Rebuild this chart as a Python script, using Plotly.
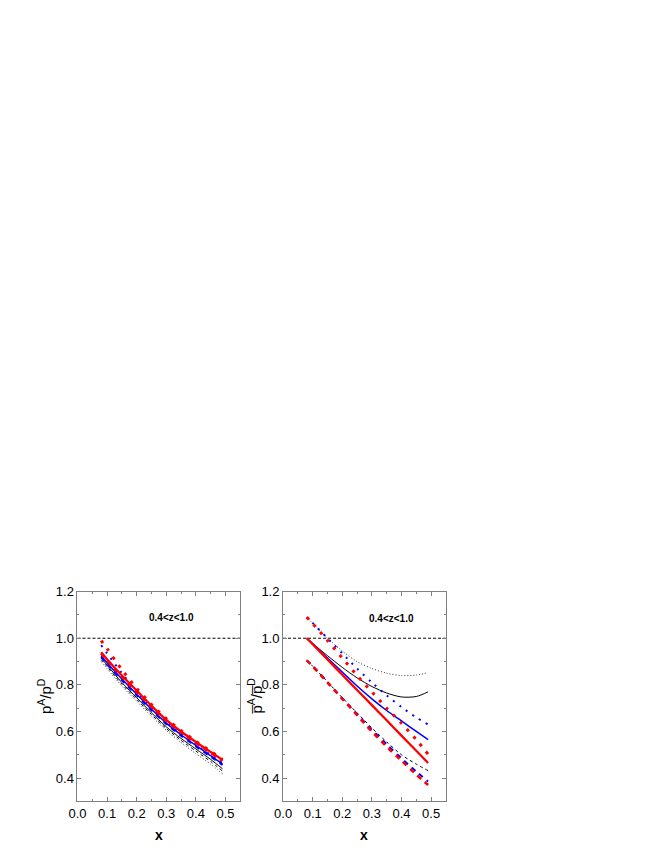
import plotly.graph_objects as go

# ---------------- data ----------------
x_vals = [0.08, 0.10, 0.15, 0.20, 0.25, 0.30, 0.35, 0.40, 0.45, 0.49]

# left panel: p^A / p^D
left_red_solid   = [0.940, 0.910, 0.840, 0.775, 0.710, 0.650, 0.600, 0.555, 0.512, 0.478]
left_red_dash    = [0.935, 0.905, 0.835, 0.770, 0.706, 0.646, 0.596, 0.551, 0.508, 0.474]
left_red_dot     = [0.990, 0.955, 0.865, 0.785, 0.716, 0.655, 0.604, 0.558, 0.515, 0.480]
left_blue_solid  = [0.925, 0.895, 0.825, 0.760, 0.695, 0.636, 0.586, 0.540, 0.496, 0.460]
left_blue_dash   = [0.920, 0.890, 0.820, 0.755, 0.691, 0.632, 0.582, 0.536, 0.492, 0.456]
left_blue_dot    = [0.970, 0.935, 0.850, 0.772, 0.702, 0.640, 0.589, 0.543, 0.499, 0.463]
left_black_solid = [0.915, 0.885, 0.810, 0.745, 0.680, 0.620, 0.570, 0.525, 0.480, 0.440]
left_black_dash  = [0.908, 0.878, 0.803, 0.738, 0.673, 0.613, 0.562, 0.516, 0.471, 0.430]
left_black_dot   = [0.900, 0.870, 0.795, 0.730, 0.665, 0.605, 0.553, 0.505, 0.460, 0.418]

# right panel: pbar^A / pbar^D
right_red_solid   = [1.000, 0.974, 0.909, 0.843, 0.778, 0.713, 0.648, 0.582, 0.517, 0.465]
right_red_dash    = [0.905, 0.880, 0.810, 0.740, 0.670, 0.600, 0.535, 0.475, 0.415, 0.370]
right_red_dot     = [1.090, 1.063, 0.990, 0.915, 0.840, 0.770, 0.700, 0.635, 0.565, 0.502]
right_blue_solid  = [1.000, 0.976, 0.915, 0.855, 0.795, 0.740, 0.690, 0.645, 0.600, 0.565]
right_blue_dash   = [0.905, 0.880, 0.812, 0.742, 0.675, 0.607, 0.545, 0.485, 0.428, 0.385]
right_blue_dot    = [1.090, 1.065, 1.000, 0.935, 0.870, 0.810, 0.755, 0.705, 0.660, 0.630]
right_black_solid = [1.000, 0.978, 0.925, 0.875, 0.830, 0.793, 0.765, 0.748, 0.750, 0.770]
right_black_dash  = [0.905, 0.880, 0.813, 0.745, 0.680, 0.615, 0.555, 0.500, 0.460, 0.432]
right_black_dot   = [1.090, 1.065, 1.000, 0.945, 0.900, 0.870, 0.850, 0.840, 0.842, 0.852]

panel_label = "0.4<z<1.0"
x_ticks = [0.0, 0.1, 0.2, 0.3, 0.4, 0.5]
y_ticks = [0.4, 0.6, 0.8, 1.0, 1.2]

# ---------------- styles ----------------
RED, BLUE, BLACK = "#ff0000", "#0000ff", "#000000"
styles = {
    ("red", "solid"): dict(color=RED, width=2.3, dash="solid"),
    ("red", "dash"): dict(color=RED, width=2.6, dash="5px,5px"),
    ("red", "dot"): dict(color=RED, width=3, dash="3px,7px"),
    ("blue", "solid"): dict(color=BLUE, width=1.5, dash="solid"),
    ("blue", "dash"): dict(color=BLUE, width=2, dash="5px,5px"),
    ("blue", "dot"): dict(color=BLUE, width=2, dash="2px,6px"),
    ("black", "solid"): dict(color=BLACK, width=1, dash="solid"),
    ("black", "dash"): dict(color=BLACK, width=1, dash="3px,3px"),
    ("black", "dot"): dict(color="#333333", width=1, dash="1px,2px"),
}

left_series = [
    ("black", "dot", left_black_dot), ("black", "dash", left_black_dash), ("black", "solid", left_black_solid),
    ("blue", "dot", left_blue_dot), ("blue", "dash", left_blue_dash), ("blue", "solid", left_blue_solid),
    ("red", "dot", left_red_dot), ("red", "dash", left_red_dash), ("red", "solid", left_red_solid),
]
right_series = [
    ("black", "dot", right_black_dot), ("black", "dash", right_black_dash), ("black", "solid", right_black_solid),
    ("blue", "dot", right_blue_dot), ("blue", "dash", right_blue_dash), ("blue", "solid", right_blue_solid),
    ("red", "dot", right_red_dot), ("red", "dash", right_red_dash), ("red", "solid", right_red_solid),
]

fig = go.Figure()

for axes, series in (("x", left_series), ("x2", right_series)):
    yax = "y" if axes == "x" else "y2"
    fig.add_trace(go.Scatter(x=[0.0, 0.55], y=[1.0, 1.0], mode="lines", xaxis=axes, yaxis=yax,
                             line=dict(color="#000000", width=1, dash="3px,2px"), showlegend=False,
                             hoverinfo="skip"))
    for col, sty, vals in series:
        fig.add_trace(go.Scatter(x=x_vals, y=vals, mode="lines", xaxis=axes, yaxis=yax,
                                 line=dict(shape="spline", smoothing=0.8, **styles[(col, sty)]),
                                 showlegend=False))

W, H = 670, 867
OFF = 8  # default page body margin
x0L, x1L = 69.3 - OFF, 234.3 - OFF
x0R, x1R = 277.7 - OFF, 442.7 - OFF
yT, yB = 589.3 - OFF, 800.8 - OFF

font = "Liberation Sans, Arial, sans-serif"
common_x = dict(range=[0, 0.55], tickvals=x_ticks, ticktext=[f"{v:.1f}" for v in x_ticks],
                ticks="inside", ticklen=4, tickcolor="#808080", showline=True, linecolor="#808080",
                linewidth=1, mirror="ticks", showgrid=False, zeroline=False,
                tickfont=dict(family=font, size=13, color="#000000"),
                minor=dict(dtick=0.05, tick0=0, ticks="inside", ticklen=2, tickcolor="#808080"))
common_y = dict(range=[0.3, 1.2], tickvals=y_ticks, ticktext=[f"{v:.1f}" for v in y_ticks],
                ticks="inside", ticklen=4, tickcolor="#808080", showline=True, linecolor="#808080",
                linewidth=1, mirror="ticks", showgrid=False, zeroline=False,
                tickfont=dict(family=font, size=13, color="#000000"),
                minor=dict(dtick=0.1, tick0=0.3, ticks="inside", ticklen=2, tickcolor="#808080"))

fig.update_layout(
    width=W, height=H, margin=dict(l=0, r=0, t=0, b=0),
    paper_bgcolor="white", plot_bgcolor="white", showlegend=False,
    xaxis=dict(domain=[x0L / W, x1L / W], anchor="y", **common_x),
    yaxis=dict(domain=[1 - yB / H, 1 - yT / H], anchor="x", **common_y),
    xaxis2=dict(domain=[x0R / W, x1R / W], anchor="y2", **common_x),
    yaxis2=dict(domain=[1 - yB / H, 1 - yT / H], anchor="x2", **common_y),
)

ann = []
ann.append(dict(text=f"<b>{panel_label}</b>", x=0.319, y=1.088, xref="x", yref="y",
                xanchor="center", yanchor="middle",
                showarrow=False, font=dict(family=font, size=10, color="#000")))
ann.append(dict(text=f"<b>{panel_label}</b>", x=0.366, y=1.086, xref="x2", yref="y2",
                xanchor="center", yanchor="middle",
                showarrow=False, font=dict(family=font, size=10, color="#000")))
for cx in ((x0L + x1L) / 2, (x0R + x1R) / 2):
    ann.append(dict(text="<b>x</b>", x=cx / W, y=1 - (835 - OFF) / H, xref="paper", yref="paper",
                    xanchor="center", yanchor="middle",
                    showarrow=False, font=dict(family=font, size=14, color="#000")))
ann.append(dict(text="p<sup>A</sup>/p<sup>D</sup>", x=(36 - OFF) / W, y=1 - (695 - OFF) / H,
                xref="paper", yref="paper", xanchor="center", yanchor="middle",
                showarrow=False, textangle=-90, font=dict(family=font, size=15, color="#000")))
ann.append(dict(text="p\u0305<sup>A</sup>/p\u0305<sup>D</sup>", x=(249 - OFF) / W, y=1 - (695 - OFF) / H,
                xref="paper", yref="paper", xanchor="center", yanchor="middle",
                showarrow=False, textangle=-90, font=dict(family=font, size=15, color="#000")))
fig.update_layout(annotations=ann)

fig.write_html("out.html")
